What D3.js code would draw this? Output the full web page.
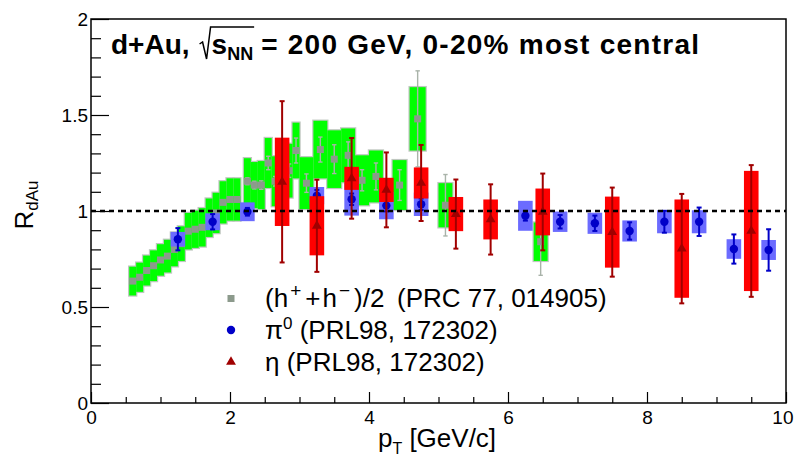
<!DOCTYPE html>
<html><head><meta charset="utf-8">
<script src="https://cdn.jsdelivr.net/npm/d3@7"></script>
<style>
body{margin:0;background:#fff}
svg{display:block}
text{font-family:"Liberation Sans",Arial,Helvetica,sans-serif;fill:#000}
</style>
</head><body>
<svg id="c" width="794" height="462"></svg>
<script>
// ---------- data ----------
// (h+ + h-)/2, PRC 77, 014905
const hPt   = [0.6,0.7,0.8,0.9,1.0,1.1,1.2,1.3,1.4,1.5,1.6,1.7,1.8,1.9,2.0,2.1,2.25,2.35,2.45,2.55,2.65,2.75,2.85,2.95,3.1,3.3,3.5,3.7,3.9,4.1,4.44,4.7,5.1,6.47];
const hVal  = [0.635,0.655,0.69,0.715,0.745,0.765,0.80,0.83,0.895,0.905,0.915,0.965,0.99,1.045,1.06,1.06,1.155,1.135,1.135,1.25,1.155,1.2,1.21,1.315,1.145,1.32,1.27,1.29,1.16,1.18,1.135,1.48,1.03,0.84];
const hStat = [0.004,0.004,0.004,0.004,0.004,0.005,0.005,0.005,0.006,0.006,0.007,0.008,0.009,0.01,0.012,0.014,0.018,0.02,0.022,0.035,0.025,0.03,0.035,0.065,0.048,0.065,0.075,0.07,0.055,0.07,0.08,0.25,0.16,0.175];
const hSys  = [0.075,0.076,0.078,0.08,0.082,0.085,0.088,0.09,0.095,0.097,0.1,0.1,0.105,0.11,0.11,0.11,0.12,0.12,0.125,0.13,0.13,0.13,0.14,0.145,0.135,0.15,0.15,0.14,0.13,0.135,0.13,0.165,0.115,0.1];
const hBinW = [0.1,0.1,0.1,0.1,0.1,0.1,0.1,0.1,0.1,0.1,0.1,0.1,0.1,0.1,0.1,0.1,0.1,0.1,0.1,0.1,0.1,0.1,0.1,0.1,0.2,0.2,0.2,0.2,0.2,0.2,0.2,0.23,0.2,0.2];

// pi0, PRL 98, 172302
const piPt   = [1.25,1.75,2.25,3.25,3.75,4.25,4.75,6.25,6.75,7.25,7.75,8.25,8.75,9.25,9.75];
const piVal  = [0.853,0.944,0.996,1.08,1.061,1.028,1.035,0.975,0.944,0.936,0.896,0.944,0.944,0.802,0.797];
const piStat = [0.058,0.04,0.02,0.03,0.03,0.03,0.03,0.025,0.035,0.04,0.045,0.057,0.074,0.076,0.108];
const piSys  = [0.038,0.044,0.049,0.045,0.085,0.071,0.061,0.078,0.053,0.055,0.055,0.06,0.06,0.051,0.052];

// eta, PRL 98, 172302
const etaPt   = [2.75,3.25,3.75,4.25,4.75,5.25,5.75,6.5,7.5,8.5,9.5];
const etaVal  = [1.152,0.923,1.17,1.11,1.146,0.984,0.956,0.995,0.89,0.804,0.896];
const etaStat = [0.42,0.24,0.21,0.195,0.198,0.18,0.183,0.2,0.232,0.285,0.343];
const etaSys  = [0.23,0.154,0.06,0.063,0.081,0.089,0.104,0.122,0.185,0.256,0.313];

const xMajorTicks = [0,2,4,6,8,10];
const xTickLabels = ["0","2","4","6","8","10"];
const xMinorTicks = [0.5,1,1.5,2.5,3,3.5,4.5,5,5.5,6.5,7,7.5,8.5,9,9.5];
const yMajorTicks = [0,0.5,1,1.5,2];
const yTickLabels = ["0","0.5","1","1.5","2"];
const yMinorTicks = [0.1,0.2,0.3,0.4,0.6,0.7,0.8,0.9,1.1,1.2,1.3,1.4,1.6,1.7,1.8,1.9];
const refLine = 1;

// ---------- layout ----------
const P = {l:91, r:786, t:19, b:403};
const x = d3.scaleLinear().domain([0,10]).range([P.l,P.r]);
const y = d3.scaleLinear().domain([0,2]).range([P.b,P.t]);
const svg = d3.select("#c");
const boxHW = 0.105;

const zip = (pt,v,st,sy,w) => pt.map((p,i)=>({p, v:v[i], st:st[i], sy:sy[i], w: w ? w[i] : 2*boxHW}));
const hD = zip(hPt,hVal,hStat,hSys,hBinW);
const piD = zip(piPt,piVal,piStat,piSys);
const etaD = zip(etaPt,etaVal,etaStat,etaSys);

const boxX = d=>x(d.p-d.w/2), boxW = d=>x(d.p+d.w/2)-x(d.p-d.w/2);
const boxY = d=>y(d.v+d.sy), boxH = d=>y(d.v-d.sy)-y(d.v+d.sy);

// green systematic band: outline layer then fill layer
const gG = svg.append("g");
gG.selectAll("rect.o").data(hD).join("rect").attr("class","o")
  .attr("x",boxX).attr("width",boxW).attr("y",boxY).attr("height",boxH)
  .attr("fill","none").attr("stroke","#bfc7bf").attr("stroke-width",2.4);
gG.selectAll("rect.f").data(hD).join("rect").attr("class","f")
  .attr("x",boxX).attr("width",boxW).attr("y",boxY).attr("height",boxH)
  .attr("fill","#00ff00");

function errBars(g, data, color, sw, cap){
  g.selectAll("line.e").data(data).join("line").attr("class","e")
    .attr("x1",d=>x(d.p)).attr("x2",d=>x(d.p)).attr("y1",d=>y(d.v-d.st)).attr("y2",d=>y(d.v+d.st))
    .attr("stroke",color).attr("stroke-width",sw);
  g.selectAll("line.c1").data(data).join("line").attr("class","c1")
    .attr("x1",d=>x(d.p)-cap).attr("x2",d=>x(d.p)+cap).attr("y1",d=>y(d.v+d.st)).attr("y2",d=>y(d.v+d.st))
    .attr("stroke",color).attr("stroke-width",sw);
  g.selectAll("line.c2").data(data).join("line").attr("class","c2")
    .attr("x1",d=>x(d.p)-cap).attr("x2",d=>x(d.p)+cap).attr("y1",d=>y(d.v-d.st)).attr("y2",d=>y(d.v-d.st))
    .attr("stroke",color).attr("stroke-width",sw);
}
// gray points
const gH = svg.append("g");
errBars(gH, hD.filter(d=>d.st>0.015), "#a9b3a9", 1.4, 2.2);
gH.selectAll("rect.m").data(hD).join("rect").attr("class","m")
  .attr("x",d=>x(d.p)-3.5).attr("y",d=>y(d.v)-3.5).attr("width",7).attr("height",7)
  .attr("fill","#8c9a8c");

// blue pi0
const gP = svg.append("g");
gP.selectAll("rect").data(piD).join("rect")
  .attr("x",boxX).attr("width",boxW).attr("y",boxY).attr("height",boxH)
  .attr("fill","#6b6bff");
errBars(gP, piD, "#0000c8", 2, 2.5);
gP.selectAll("circle").data(piD).join("circle")
  .attr("cx",d=>x(d.p)).attr("cy",d=>y(d.v)).attr("r",4.2).attr("fill","#0000c8");

// red eta
const gE = svg.append("g");
gE.selectAll("rect").data(etaD).join("rect")
  .attr("x",boxX).attr("width",boxW).attr("y",boxY).attr("height",boxH)
  .attr("fill","#ff0000");
errBars(gE, etaD, "#a00000", 2, 2.5);
const tri = d3.symbol(d3.symbolTriangle).size(42);
gE.selectAll("path").data(etaD).join("path")
  .attr("d",tri).attr("transform",d=>`translate(${x(d.p)},${y(d.v)})`).attr("fill","#a00000");

// reference dashed line at 1
svg.append("line").attr("x1",x(0)).attr("x2",x(10)).attr("y1",y(refLine)).attr("y2",y(refLine))
  .attr("stroke","#000").attr("stroke-width",2.5).attr("stroke-dasharray","5,4");

// ---------- axes ----------
const fs = 19;
svg.append("g").attr("transform",`translate(0,${P.b})`)
  .call(d3.axisBottom(x).tickValues(xMajorTicks).tickSize(-11).tickSizeOuter(0).tickPadding(8)
        .tickFormat((d,i)=>xTickLabels[i]));
svg.append("g").attr("transform",`translate(0,${P.b})`)
  .call(d3.axisBottom(x).tickValues(xMinorTicks).tickSize(-6).tickSizeOuter(0).tickFormat(""));
svg.append("g").attr("transform",`translate(${P.l},0)`)
  .call(d3.axisLeft(y).tickValues(yMajorTicks).tickSize(-18).tickSizeOuter(0).tickPadding(3)
        .tickFormat((d,i)=>yTickLabels[i]));
svg.append("g").attr("transform",`translate(${P.l},0)`)
  .call(d3.axisLeft(y).tickValues(yMinorTicks).tickSize(-10).tickSizeOuter(0).tickFormat(""));
svg.selectAll(".domain").remove();
svg.selectAll(".tick line").attr("stroke","#000").attr("stroke-width",1.2);
svg.selectAll(".tick text").attr("font-size",fs).attr("font-family",'"Liberation Sans",Arial,sans-serif').attr("fill","#000");
// keep the last x label inside the page
svg.selectAll(".tick text").filter(function(){return this.textContent==="10";})
  .attr("text-anchor","end").attr("x",793-P.r);

// frame
svg.append("rect").attr("x",P.l).attr("y",P.t).attr("width",P.r-P.l).attr("height",P.b-P.t)
  .attr("fill","none").attr("stroke","#000").attr("stroke-width",1.5);

// axis titles
const xl = svg.append("text").attr("x",437).attr("y",447).attr("text-anchor","middle").attr("font-size",26);
xl.append("tspan").text("p");
xl.append("tspan").attr("font-size",16).attr("dy",7).text("T");
xl.append("tspan").attr("dy",-7).text("\u00a0[GeV/c]");

const yl = svg.append("text").attr("transform","translate(33,205) rotate(-90)").attr("text-anchor","middle");
yl.append("tspan").attr("font-size",26).text("R");
yl.append("tspan").attr("font-size",17).attr("dy",5).text("dAu");

// ---------- title ----------
const TY = 54, TF = 28;
let tx = 111;
const tt = (str, xx, yy, size) => svg.append("text").attr("x",xx).attr("y",yy)
  .attr("font-size",size).attr("font-weight","bold").text(str);
const t1 = tt("d+Au,", tx, TY, TF);
tx += t1.node().getComputedTextLength() + 11;
const radX = tx;
tx += 11;
const t2 = tt("s", tx, TY, TF);
tx += t2.node().getComputedTextLength();
const t3 = tt("NN", tx, TY+6, 18);
tx += t3.node().getComputedTextLength();
const ovEnd = tx + 1;
svg.append("path")
  .attr("d",`M${radX-1},${TY-10} L${radX+2},${TY-12} L${radX+6},${TY+5} L${radX+10},${TY-27} L${ovEnd},${TY-27}`)
  .attr("fill","none").attr("stroke","#000").attr("stroke-width",1.5);
const tStart = tx + 8;
tt("= 200 GeV, 0-20% most central", tStart, TY, TF)
  .attr("textLength", 699 - tStart).attr("lengthAdjust","spacing");

// ---------- legend ----------
const LX = 231, LT = 265, LF = 26;
const rows = [307, 339, 371];
svg.append("rect").attr("x",LX-3.5).attr("y",rows[0]-12).attr("width",7).attr("height",7).attr("fill","#8c9a8c");
svg.append("circle").attr("cx",LX).attr("cy",rows[1]-9).attr("r",4.2).attr("fill","#0000c8");
svg.append("path").attr("d",tri).attr("transform",`translate(${LX},${rows[2]-9})`).attr("fill","#a00000");

const l1 = svg.append("text").attr("x",LT).attr("y",rows[0]).attr("font-size",LF);
l1.append("tspan").text("(h");
l1.append("tspan").attr("font-size",19).attr("dx",2).attr("dy",-10).text("+");
l1.append("tspan").attr("dx",4).attr("dy",10).text("+");
l1.append("tspan").attr("dx",2).text("h");
l1.append("tspan").attr("font-size",19).attr("dx",2).attr("dy",-10).text("\u2212");
l1.append("tspan").attr("dx",4).attr("dy",10).text(")/2");
l1.append("tspan").attr("x",397).text("(PRC 77, 014905)");

const l2 = svg.append("text").attr("x",LT).attr("y",rows[1]).attr("font-size",LF);
l2.append("tspan").text("π");
l2.append("tspan").attr("font-size",17).attr("dy",-10).text("0");
l2.append("tspan").attr("dy",10).text("\u00a0(PRL98, 172302)");

const l3 = svg.append("text").attr("x",LT).attr("y",rows[2]).attr("font-size",LF);
l3.append("tspan").text("η (PRL98, 172302)");
</script>
</body></html>
